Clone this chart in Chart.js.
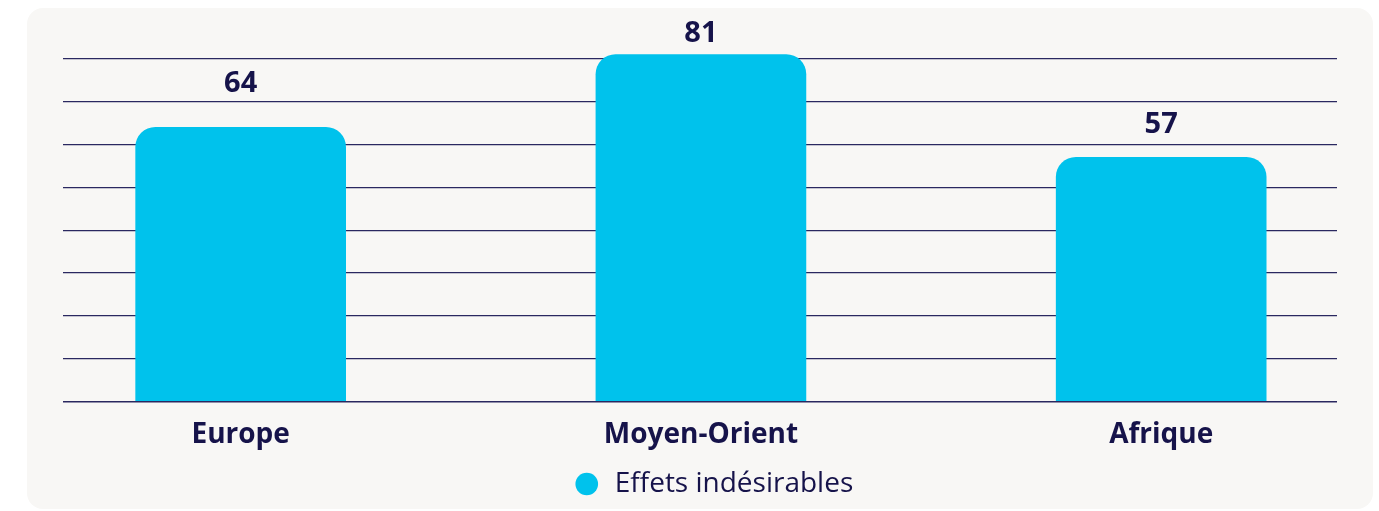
<!DOCTYPE html>
<html>
<head>
<meta charset="utf-8">
<script src="https://cdn.jsdelivr.net/npm/chart.js@4"></script>
<style>
  html, body { margin: 0; padding: 0; background: #ffffff; overflow: hidden; }
  .panel {
    position: absolute; left: 27px; top: 8px; width: 1346px; height: 501px;
    background: #f8f7f5; border-radius: 16px;
  }
  .wrap { position: absolute; left: 0; top: 0; width: 1379px; height: 511px; }
</style>
</head>
<body>
<div class="panel"></div>
<div class="wrap"><canvas id="chart"></canvas></div>
<script>
// données
const regions = ['Europe', 'Moyen-Orient', 'Afrique'];
const effets  = [64, 81, 57];
const seriesLabel = 'Effets indésirables';
const yTicks = [0, 10, 20, 30, 40, 50, 60, 70, 80];

const NAVY = '#16134a';
const CYAN = '#00c2ec';
const FONT = "'Open Sans'";

// hauteur des étiquettes au-dessus des barres (px)
const labelLift = [44, 21, 33];

const valueLabels = {
  id: 'valueLabels',
  afterDatasetsDraw(chart) {
    const { ctx } = chart;
    const meta = chart.getDatasetMeta(0);
    ctx.save();
    ctx.font = `bold 29px ${FONT}`;
    ctx.fillStyle = NAVY;
    ctx.textAlign = 'center';
    ctx.textBaseline = 'middle';
    meta.data.forEach((bar, i) => {
      ctx.fillText(String(effets[i]), bar.x, bar.y - labelLift[i]);
    });
    ctx.restore();
  }
};

// la légende est un peu décalée à droite dans l'original
const legendShift = {
  id: 'legendShift',
  afterLayout(chart) {
    if (!chart.legend) return;
    chart.legend.left += 13;
    chart.legend.right += 13;
  }
};

new Chart(document.getElementById('chart'), {
  type: 'bar',
  data: {
    datasets: [{
      label: seriesLabel,
      data: regions.map((r, i) => ({ x: i, y: effets[i] })),
      backgroundColor: CYAN,
      borderWidth: 0,
      borderRadius: { topLeft: 20, topRight: 20 },
      borderSkipped: 'bottom',
      barThickness: 210,
    }]
  },
  plugins: [valueLabels, legendShift],
  options: {
    responsive: true,
    maintainAspectRatio: false,
    animation: false,
    layout: { padding: { left: 63, right: 42, top: 16, bottom: 3 } },
    plugins: {
      legend: {
        position: 'bottom',
        labels: {
          usePointStyle: true,
          pointStyle: 'circle',
          boxWidth: 28,
          boxHeight: 16,
          padding: 1,
          color: NAVY,
          font: { family: FONT, size: 28 }
        }
      },
      tooltip: { enabled: false }
    },
    scales: {
      x: {
        type: 'linear',
        offset: false,
        min: -0.386,
        max: 2.382,
        afterBuildTicks: axis => { axis.ticks = regions.map((_, i) => ({ value: i })); },
        grid: { display: false, drawTicks: false, offset: false },
        border: { display: false },
        ticks: {
          color: NAVY,
          padding: 17,
          font: { family: FONT, size: 28, weight: 'bold' },
          callback: v => regions[v]
        }
      },
      y: {
        min: 0,
        max: 90,
        afterBuildTicks: axis => { axis.ticks = yTicks.map(v => ({ value: v })); },
        grid: {
          drawTicks: false,
          color: '#2a2860',
          lineWidth: c => (c.tick && c.tick.value === 0 ? 1.6 : 1.2)
        },
        border: { display: false },
        ticks: { display: false }
      }
    }
  }
});
</script>
</body>
</html>
